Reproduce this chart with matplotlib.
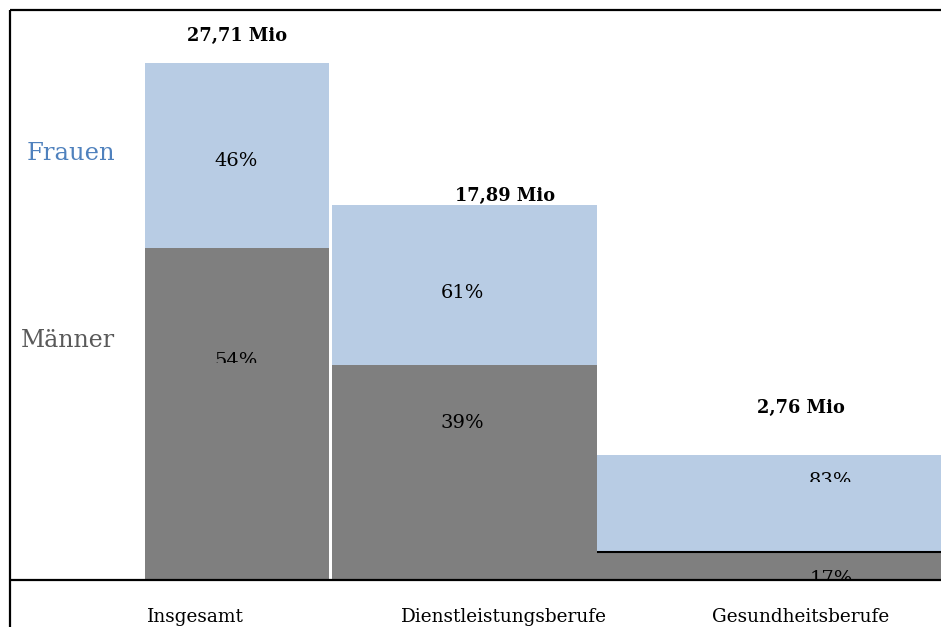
import matplotlib
matplotlib.use("Agg")
import matplotlib.pyplot as plt
from matplotlib.transforms import Bbox, TransformedBbox
import numpy as np

# ====================
# Data
# ====================
categories = ["Insgesamt", "Dienstleistungsberufe", "Gesundheitsberufe"]
total_labels = ["27,71 Mio", "17,89 Mio", "2,76 Mio"]
share_men = ["54%", "39%", "17%"]
share_women = ["46%", "61%", "83%"]

# drawn segment sizes as they appear (picture units)
bar_width = [184, 265, 345]
height_men = [332, 215, 28]
height_women = [185, 160, 97]

# ====================
# Layout
# ====================
x_start = 145
gaps = [3, 0, 0]
total_pos = [(237, 539), (505, 379), (801, 167)]
women_pos = [(236, 414), (462, 282), (831, 94)]
men_pos = [(236, 214), (462, 152), (831, -4)]
men_clip = [217, None, 0]
women_clip = [None, None, 98]
cat_x = [195, 504, 801]

c_women = "#b8cce4"
c_men = "#7f7f7f"
font = "DejaVu Serif"

fig = plt.figure(figsize=(9.41, 6.27), dpi=100)
ax = fig.add_axes([0, 0, 1, 1])
ax.set_xlim(0, 941)
ax.set_ylim(-47, 580)
ax.axis("off")

lefts = []
x = x_start
for w, g in zip(bar_width, gaps):
    lefts.append(x)
    x += w + g
lefts = np.array(lefts)

ax.bar(lefts, height_men, width=bar_width, align="edge", color=c_men, linewidth=0)
ax.bar(lefts, height_women, width=bar_width, bottom=height_men, align="edge",
       color=c_women, linewidth=0)

# line on top of the last male segment
ax.hlines(height_men[2], lefts[2], lefts[2] + bar_width[2], color="black", lw=1.5)

# frame
ax.plot([10, 10], [-47, 570], color="black", lw=1.6, solid_capstyle="butt")
ax.plot([10, 941], [570, 570], color="black", lw=1.6, solid_capstyle="butt")
ax.plot([10, 941], [0, 0], color="black", lw=1.6, solid_capstyle="butt")


def clipped_text(x, y, s, clip_y):
    t = ax.text(x, y, s, ha="center", va="baseline", fontsize=14, family=font)
    if clip_y is not None:
        bb = Bbox([[0, clip_y], [941, 580]])
        t.set_clip_box(TransformedBbox(bb, ax.transData))
        t.set_clip_on(True)
    return t


for i in range(3):
    tx, ty = total_pos[i]
    ax.text(tx, ty, total_labels[i], ha="center", va="baseline", fontsize=12.8,
            fontweight="bold", family=font)
    wx, wy = women_pos[i]
    clipped_text(wx, wy, share_women[i], women_clip[i])
    mx, my = men_pos[i]
    clipped_text(mx, my, share_men[i], men_clip[i])
    ax.text(cat_x[i], -42, categories[i], ha="center", va="baseline", fontsize=13.3,
            family=font)

ax.text(115, 420, "Frauen", ha="right", va="baseline", fontsize=17.5, family=font,
        color="#4f81bd")
ax.text(115, 233, "Männer", ha="right", va="baseline", fontsize=17, family=font,
        color="#595959")

fig.savefig("out.png", dpi=100)
